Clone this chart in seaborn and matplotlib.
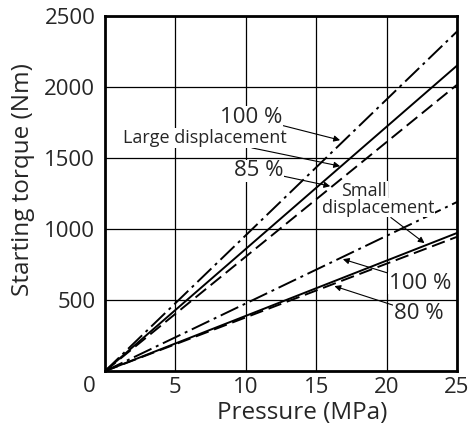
import pandas as pd
import matplotlib
matplotlib.use("Agg")
import matplotlib.pyplot as plt
import seaborn as sns

# données (couple de démarrage vs pression)
pressure = [0, 25]
large_100 = [0, 2390]
large_theory = [0, 2150]
large_85 = [0, 2015]
small_100 = [0, 1190]
small_theory = [0, 972]
small_80 = [0, 945]

series = {
    "large_100": large_100,
    "large_theory": large_theory,
    "large_85": large_85,
    "small_100": small_100,
    "small_theory": small_theory,
    "small_80": small_80,
}
rows = []
for name, vals in series.items():
    for p, v in zip(pressure, vals):
        rows.append({"Pressure": p, "Torque": v, "series": name})
df = pd.DataFrame(rows)

sns.set_style("white")
plt.rcParams["font.family"] = ["Open Sans", "DejaVu Sans"]

fig = plt.figure(figsize=(4.71, 4.33), dpi=100)
ax = fig.add_axes([0.223, 0.143, 0.747, 0.820])

dashdot = (10, 2.5, 1.5, 2.5)
dash = (7, 3)
dashes = {
    "large_100": dashdot,
    "large_theory": "",
    "large_85": dash,
    "small_100": dashdot,
    "small_theory": "",
    "small_80": dash,
}
sns.lineplot(data=df, x="Pressure", y="Torque", style="series", dashes=dashes,
             color="black", linewidth=1.4, legend=False, ax=ax, zorder=3)

ax.set_xlim(0, 25)
ax.set_ylim(0, 2500)
ax.set_xticks([5, 10, 15, 20, 25])
ax.set_yticks([500, 1000, 1500, 2000, 2500])
ax.grid(True, color="black", linewidth=0.9)
ax.tick_params(axis="x", length=0, labelsize=16, pad=4)
ax.tick_params(axis="y", length=0, labelsize=16, pad=7)
for s in ax.spines.values():
    s.set_visible(True)
    s.set_color("black")
    s.set_linewidth(2)
ax.text(-1.1, -110, "0", fontsize=16, ha="center", va="center")

ax.set_xlabel("Pressure (MPa)", fontsize=17.5)
ax.set_ylabel("Starting torque (Nm)", fontsize=17.5)
ax.xaxis.set_label_coords(0.56, -0.085)
ax.yaxis.set_label_coords(-0.198, 0.54)

box = dict(facecolor="white", edgecolor="none", pad=0.5)
arrow = dict(arrowstyle="-|>", color="black", lw=0.8, mutation_scale=9,
             shrinkA=0, shrinkB=0)

def note(txt, xy, xytext, size):
    ax.annotate(txt, xy=xy, xytext=xytext, fontsize=size, ha="center", va="center",
                bbox=box, arrowprops=arrow, zorder=4)

note("100 %", (16.7, 1626), (10.4, 1785), 16)
note("Large displacement", (16.7, 1443), (7.1, 1640), 13)
note("85 %", (16.0, 1302), (10.9, 1410), 16)
ax.text(18.4, 1270, "Small", fontsize=13, ha="center", va="center", bbox=box, zorder=4)
note("displacement", (22.7, 901), (19.4, 1150), 13)
note("100 %", (16.9, 788), (22.4, 620), 16)
note("80 %", (16.3, 598), (22.3, 405), 16)

fig.savefig("out.png", dpi=100)
